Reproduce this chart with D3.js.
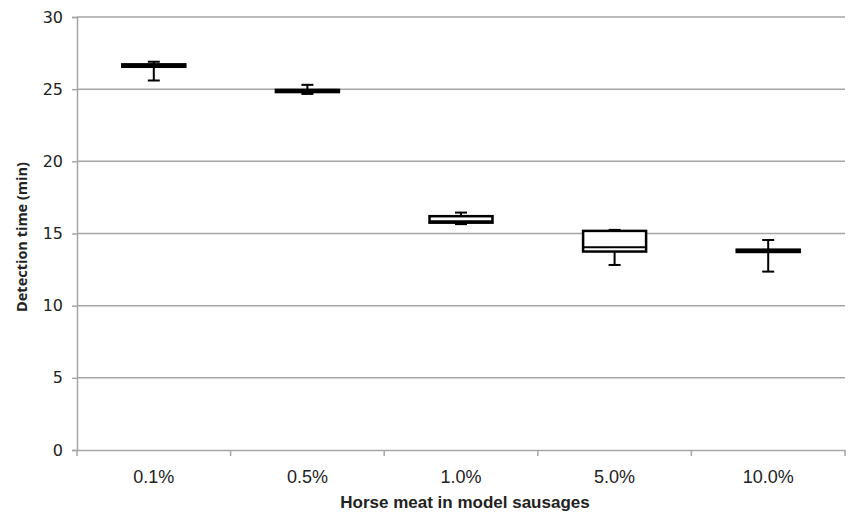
<!DOCTYPE html>
<html><head><meta charset="utf-8">
<script src="https://cdn.jsdelivr.net/npm/d3@7"></script>
<style>body{margin:0;background:#fff}</style>
</head><body>
<svg id="c" width="848" height="515"></svg>
<script>
const categories = ["0.1%", "0.5%", "1.0%", "5.0%", "10.0%"];
const whiskerLow  = [25.6, 24.67, 15.65, 12.82, 12.36];
const q1          = [26.55, 24.8, 15.75, 13.75, 13.72];
const median      = [26.65, 24.9, 15.85, 14.05, 13.8];
const q3          = [26.72, 24.95, 16.2, 15.18, 13.88];
const whiskerHigh = [26.9, 25.3, 16.45, 15.25, 14.55];
const yTicks = [0, 5, 10, 15, 20, 25, 30];

const svg = d3.select("#c");
const L = 77, R = 845, T = 17, B = 450;
const x = d3.scaleBand().domain(categories).range([L, R]);
const y = d3.scaleLinear().domain([0, 30]).range([B, T]);
const grid = "#a6a6a6";

// gridlines
svg.append("g").selectAll("line").data(yTicks.filter(d => d > 0)).join("line")
  .attr("x1", L).attr("x2", R).attr("y1", d => y(d)).attr("y2", d => y(d))
  .attr("stroke", grid).attr("stroke-width", 1.5);

// y axis
const ya = svg.append("g").attr("transform", `translate(${L},0)`)
  .call(d3.axisLeft(y).tickValues(yTicks).tickSize(5).tickPadding(9));
ya.select(".domain").attr("stroke", grid).attr("stroke-width", 1.5);
ya.selectAll(".tick line").attr("stroke", grid).attr("stroke-width", 1.5);
ya.selectAll(".tick text").attr("font-family", "DejaVu Sans, Verdana, sans-serif")
  .attr("font-size", 16).attr("fill", "#222");

// x axis
const xa = svg.append("g").attr("transform", `translate(0,${B})`)
  .call(d3.axisBottom(x).tickSize(0).tickPadding(20));
xa.select(".domain").attr("stroke", grid).attr("stroke-width", 1.5);
xa.selectAll(".tick text").attr("font-family", "Liberation Sans, Arial, sans-serif")
  .attr("font-size", 18).attr("fill", "#222");
// boundary ticks
const bounds = categories.map(c => x(c)).concat([R]);
svg.append("g").selectAll("line").data(bounds).join("line")
  .attr("x1", d => d).attr("x2", d => d).attr("y1", B).attr("y2", B + 6)
  .attr("stroke", grid).attr("stroke-width", 1.5);

// boxes
const bw = 63, cap = 12;
const g = svg.append("g");
categories.forEach((c, i) => {
  const cx = x(c) + x.bandwidth() / 2;
  g.append("line").attr("x1", cx).attr("x2", cx).attr("y1", y(whiskerHigh[i])).attr("y2", y(q3[i]))
    .attr("stroke", "#000").attr("stroke-width", 2);
  g.append("line").attr("x1", cx).attr("x2", cx).attr("y1", y(q1[i])).attr("y2", y(whiskerLow[i]))
    .attr("stroke", "#000").attr("stroke-width", 2);
  [whiskerHigh[i], whiskerLow[i]].forEach(v => {
    g.append("line").attr("x1", cx - cap / 2).attr("x2", cx + cap / 2).attr("y1", y(v)).attr("y2", y(v))
      .attr("stroke", "#000").attr("stroke-width", 2);
  });
  g.append("rect").attr("x", cx - bw / 2).attr("width", bw)
    .attr("y", y(q3[i])).attr("height", Math.max(0, y(q1[i]) - y(q3[i])))
    .attr("fill", "#fff").attr("stroke", "#000").attr("stroke-width", 2.5);
  g.append("line").attr("x1", cx - bw / 2).attr("x2", cx + bw / 2).attr("y1", y(median[i])).attr("y2", y(median[i]))
    .attr("stroke", "#000").attr("stroke-width", 2);
});

// titles
svg.append("text").attr("x", 465).attr("y", 508).attr("text-anchor", "middle")
  .attr("font-family", "Liberation Sans Narrow, Arial Narrow, Liberation Sans, sans-serif")
  .attr("font-weight", "bold").attr("font-size", 17).attr("fill", "#222")
  .text("Horse meat in model sausages");
svg.append("text").attr("transform", `translate(27,237) rotate(-90)`).attr("text-anchor", "middle")
  .attr("font-family", "Open Sans, DejaVu Sans, sans-serif")
  .attr("font-weight", "bold").attr("font-size", 14.5).attr("fill", "#222")
  .text("Detection time (min)");
</script>
</body></html>
